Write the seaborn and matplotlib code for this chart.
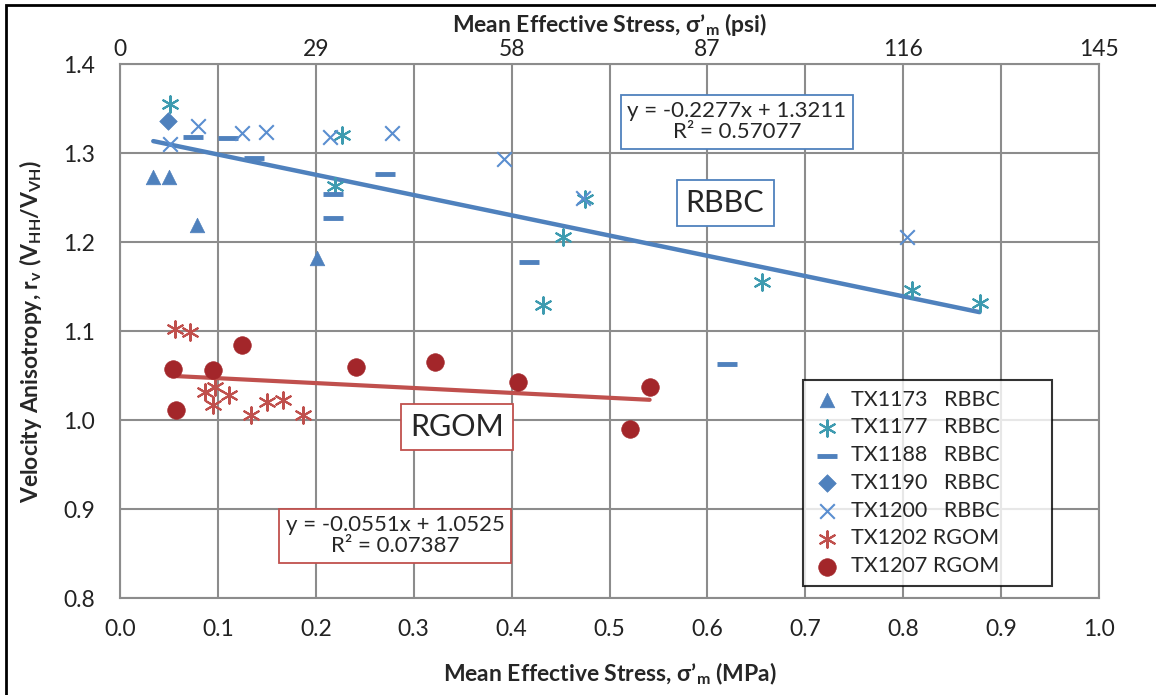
import numpy as np
import pandas as pd
import matplotlib
matplotlib.use('Agg')
import matplotlib.pyplot as plt
from matplotlib.patches import Rectangle
import seaborn as sns

# ---- data (x = MPa, y = rv) ----
tx1173_x = [0.034, 0.050, 0.079, 0.201]
tx1173_y = [1.273, 1.273, 1.219, 1.182]
tx1177_x = [0.051, 0.227, 0.220, 0.452, 0.432, 0.475, 0.656, 0.809, 0.878]
tx1177_y = [1.355, 1.320, 1.263, 1.206, 1.129, 1.248, 1.155, 1.146, 1.132]
tx1188_x = [0.075, 0.110, 0.137, 0.218, 0.218, 0.271, 0.418, 0.620]
tx1188_y = [1.318, 1.317, 1.294, 1.254, 1.227, 1.276, 1.178, 1.063]
tx1190_x = [0.049]
tx1190_y = [1.336]
tx1200_x = [0.080, 0.051, 0.125, 0.149, 0.214, 0.278, 0.392, 0.473, 0.804]
tx1200_y = [1.330, 1.310, 1.323, 1.324, 1.318, 1.322, 1.293, 1.250, 1.206]
tx1202_x = [0.056, 0.072, 0.087, 0.097, 0.095, 0.111, 0.134, 0.150, 0.166, 0.187]
tx1202_y = [1.102, 1.099, 1.031, 1.037, 1.017, 1.028, 1.006, 1.020, 1.022, 1.006]
tx1207_x = [0.054, 0.057, 0.095, 0.125, 0.241, 0.322, 0.407, 0.541, 0.521]
tx1207_y = [1.057, 1.011, 1.056, 1.084, 1.059, 1.065, 1.043, 1.037, 0.990]

# trend lines as given on the chart
rbbc_slope, rbbc_icpt, rbbc_r2 = -0.2277, 1.3211, 0.57077
rgom_slope, rgom_icpt, rgom_r2 = -0.0551, 1.0525, 0.07387

x_ticks = [0.0, 0.1, 0.2, 0.3, 0.4, 0.5, 0.6, 0.7, 0.8, 0.9, 1.0]
y_ticks = [0.8, 0.9, 1.0, 1.1, 1.2, 1.3, 1.4]
psi_ticks = [0, 29, 58, 87, 116, 145]

sns.set_style('white')
plt.rcParams['font.family'] = ['Lato', 'DejaVu Sans']
plt.rcParams['mathtext.fontset'] = 'custom'
plt.rcParams['mathtext.rm'] = 'Lato'
plt.rcParams['mathtext.bf'] = 'Lato:bold'
plt.rcParams['mathtext.it'] = 'Lato:italic'

blue = '#4F81BD'
teal = '#3E9BB0'
red = '#C0504D'
darkred = '#A3262A'

series = [
    ('TX1173   RBBC', tx1173_x, tx1173_y, '^', blue, 110, None),
    ('TX1177   RBBC', tx1177_x, tx1177_y, (6, 2, 0), teal, 140, 1.5),
    ('TX1188   RBBC', tx1188_x, tx1188_y, '_', blue, 200, 3.5),
    ('TX1190   RBBC', tx1190_x, tx1190_y, 'D', blue, 80, None),
    ('TX1200   RBBC', tx1200_x, tx1200_y, 'x', '#5A8ED0', 110, 1.5),
    ('TX1202 RGOM', tx1202_x, tx1202_y, (6, 2, 0), red, 140, 1.5),
    ('TX1207 RGOM', tx1207_x, tx1207_y, 'o', darkred, 160, None),
]

W, H = 1156, 695
fig = plt.figure(figsize=(W / 100, H / 100), dpi=100)
ax = fig.add_axes([120 / W, 1 - 598 / H, (1099 - 120) / W, (598 - 64) / H])

for label, xs, ys, mk, col, size, lw in series:
    df = pd.DataFrame({'x': xs, 'y': ys})
    kw = dict(marker=mk, s=size, color=col, label=label, zorder=3)
    if lw is not None:
        kw['linewidth'] = lw
    else:
        kw['edgecolor'] = col
        kw['linewidth'] = 0.5
    sns.scatterplot(data=df, x='x', y='y', ax=ax, **kw)

# trend lines over each group's data range
rbbc_x = tx1173_x + tx1177_x + tx1188_x + tx1190_x + tx1200_x
rgom_x = tx1202_x + tx1207_x
xr = np.array([min(rbbc_x), max(rbbc_x)])
ax.plot(xr, rbbc_slope * xr + rbbc_icpt, color=blue, lw=3.2, solid_capstyle='round', zorder=2)
xg = np.array([min(rgom_x), max(rgom_x)])
ax.plot(xg, rgom_slope * xg + rgom_icpt, color=red, lw=3.0, solid_capstyle='round', zorder=2)

ax.set_xlim(0, 1.0)
ax.set_ylim(0.8, 1.4)
ax.set_xticks(x_ticks)
ax.set_yticks(y_ticks)
ax.set_xticklabels([f'{v:.1f}' for v in x_ticks])
ax.set_yticklabels([f'{v:.1f}' for v in y_ticks])
ax.tick_params(axis='both', length=0, labelsize=16.5, colors='#222222')
ax.tick_params(axis='x', pad=15)
ax.tick_params(axis='y', pad=18)
ax.grid(True, color='#8C8C8C', lw=1.5)
ax.set_axisbelow(True)
for s in ax.spines.values():
    s.set_color('#8C8C8C')
    s.set_linewidth(1.5)

ax.set_xlabel('Mean Effective Stress, σ’$_\\mathbf{m}$ (MPa)', fontsize=16.5, fontweight='bold')
ax.set_ylabel('Velocity Anisotropy, r$_\\mathbf{v}$ (V$_\\mathbf{HH}$/V$_\\mathbf{VH}$)',
              fontsize=16.5, fontweight='bold')
ax.xaxis.set_label_coords(0.5, -0.118)
ax.yaxis.set_label_coords(-0.078, 0.5)

top = ax.secondary_xaxis('top', functions=(lambda v: v * 145, lambda p: p / 145))
top.set_xticks(psi_ticks)
top.set_xticklabels([str(p) for p in psi_ticks])
top.tick_params(length=0, labelsize=16.5, pad=3, colors='#222222')
top.spines['top'].set_visible(False)
top.set_xlabel('Mean Effective Stress, σ’$_\\mathbf{m}$ (psi)', fontsize=16.5, fontweight='bold', labelpad=5)

# equation / group boxes
ax.text(0.630, 1.335, f'y = {rbbc_slope}x + {rbbc_icpt}\nR² = {rbbc_r2}', ha='center', va='center',
        fontsize=16, linespacing=1.05, zorder=5,
        bbox=dict(boxstyle='square,pad=0.3', fc='white', ec=blue, lw=1.3))
ax.text(0.618, 1.244, 'RBBC', ha='center', va='center', fontsize=22, zorder=5,
        bbox=dict(boxstyle='square,pad=0.3', fc='white', ec=blue, lw=1.3))
ax.text(0.344, 0.992, 'RGOM', ha='center', va='center', fontsize=22, zorder=5,
        bbox=dict(boxstyle='square,pad=0.3', fc='white', ec=red, lw=1.3))
ax.text(0.281, 0.870, f'y = {rgom_slope}x + {rgom_icpt}\nR² = {rgom_r2:.5f}', ha='center', va='center',
        fontsize=16, linespacing=1.05, zorder=5,
        bbox=dict(boxstyle='square,pad=0.3', fc='white', ec=red, lw=1.3))

leg = ax.legend(loc='upper left', bbox_to_anchor=(803 / W, 1 - 585 / H, 249 / W, 205 / H),
                bbox_transform=fig.transFigure, mode='expand',
                borderaxespad=0, fontsize=15.5, frameon=True, fancybox=False, edgecolor='black',
                labelspacing=0.36, handletextpad=0.5, handlelength=1.3, borderpad=0.45)
leg.get_frame().set_linewidth(1.5)
leg.set_zorder(6)

# outer frame of the chart area
fig.patches.append(Rectangle((6 / W, -0.1), 1.2, 1 - 5 / H + 0.1, transform=fig.transFigure,
                             fill=False, ec='black', lw=2))

fig.savefig('out.png', dpi=100, facecolor='white')
